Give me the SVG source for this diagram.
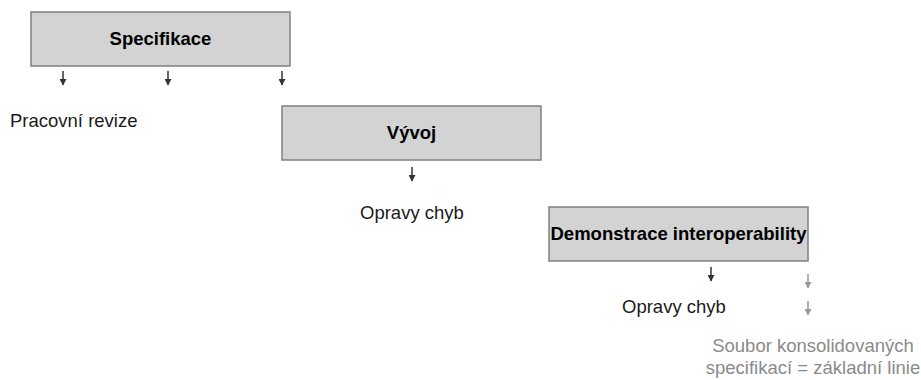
<svg xmlns="http://www.w3.org/2000/svg" width="921" height="380" viewBox="0 0 921 380">
<style>
.box{fill:#d3d3d3;stroke:#808080;stroke-width:1.5}
.title{font-family:"Liberation Sans",Arial,sans-serif;font-size:18.5px;font-weight:bold;fill:#000;text-anchor:middle}
.lbl{font-family:"Liberation Sans",Arial,sans-serif;font-size:18.5px;fill:#1a1a1a}
.glbl{font-family:"Liberation Sans",Arial,sans-serif;font-size:18.5px;fill:#8a8a8a;text-anchor:middle}
.arr{stroke:#333;stroke-width:1.5;marker-end:url(#ah)}
.garr{stroke:#999;stroke-width:1.5;marker-end:url(#gah)}
</style>
<defs>
<marker id="ah" markerWidth="7" markerHeight="7" refX="6" refY="3.5" orient="auto" markerUnits="userSpaceOnUse" viewBox="0 0 7 7"><path d="M0,0 L6.5,3.5 L0,7 Z" fill="#333"/></marker>
<marker id="gah" markerWidth="7" markerHeight="7" refX="6" refY="3.5" orient="auto" markerUnits="userSpaceOnUse" viewBox="0 0 7 7"><path d="M0,0 L6.5,3.5 L0,7 Z" fill="#999"/></marker>
</defs>
<g id="specifikace">
<rect class="box" x="31" y="12" width="259" height="54"/>
<text class="title" x="160.5" y="45">Specifikace</text>
</g>
<g id="vyvoj">
<rect class="box" x="282" y="106" width="259" height="54"/>
<text class="title" x="411.5" y="139">Vývoj</text>
</g>
<g id="demonstrace">
<rect class="box" x="549" y="207" width="259" height="54"/>
<text class="title" x="678.5" y="240">Demonstrace interoperability</text>
</g>
<g id="labels">
<text class="lbl" x="10" y="127">Pracovní revize</text>
<text class="lbl" x="360" y="219">Opravy chyb</text>
<text class="lbl" x="622" y="313">Opravy chyb</text>
<text class="glbl" x="813" y="352">Soubor konsolidovaných</text>
<text class="glbl" x="813" y="374">specifikací = základní linie</text>
</g>
<g id="connectors">
<line class="arr" x1="63" y1="71" x2="63" y2="85"/>
<line class="arr" x1="168" y1="71" x2="168" y2="85"/>
<line class="arr" x1="282" y1="71" x2="282" y2="85"/>
<line class="arr" x1="412" y1="167" x2="412" y2="181"/>
<line class="arr" x1="711" y1="267" x2="711" y2="281"/>
<line class="garr" x1="808" y1="274" x2="808" y2="288"/>
<line class="garr" x1="808" y1="301" x2="808" y2="315"/>
</g>
</svg>
